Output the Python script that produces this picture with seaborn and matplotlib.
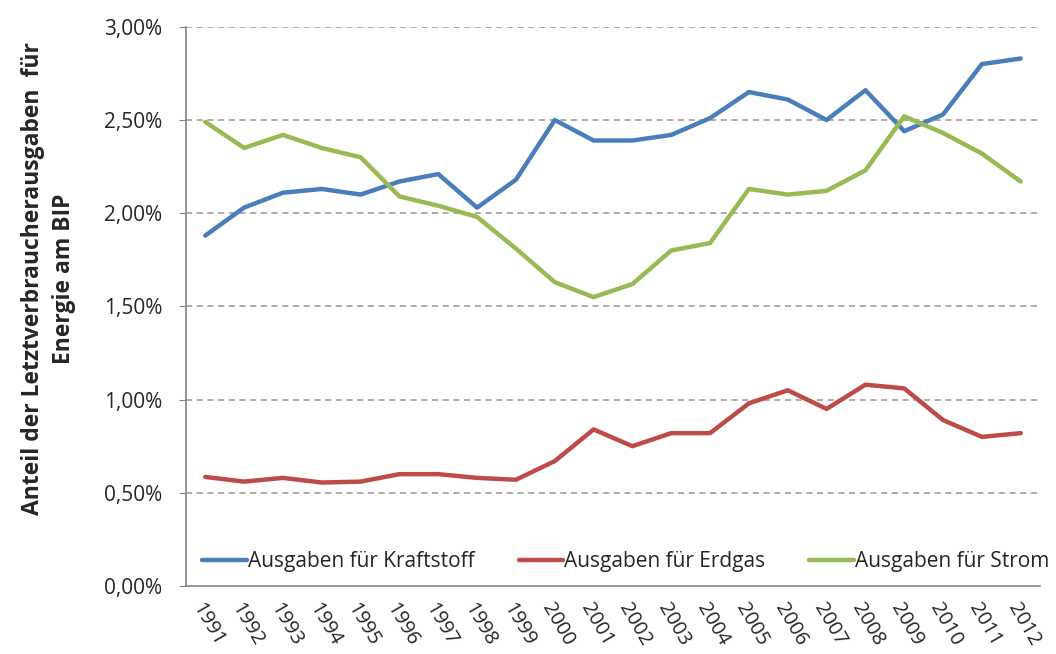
import numpy as np
import pandas as pd
import seaborn as sns
import matplotlib.pyplot as plt
from matplotlib.ticker import FuncFormatter

years = list(range(1991, 2013))
kraftstoff = [1.88, 2.03, 2.11, 2.13, 2.10, 2.17, 2.21, 2.03, 2.18, 2.50, 2.39,
              2.39, 2.42, 2.51, 2.65, 2.61, 2.50, 2.66, 2.44, 2.53, 2.80, 2.83]
erdgas = [0.585, 0.56, 0.58, 0.555, 0.56, 0.60, 0.60, 0.58, 0.57, 0.67, 0.84,
          0.75, 0.82, 0.82, 0.98, 1.05, 0.95, 1.08, 1.06, 0.89, 0.80, 0.82]
strom = [2.49, 2.35, 2.42, 2.35, 2.30, 2.09, 2.04, 1.98, 1.81, 1.63, 1.55,
         1.62, 1.80, 1.84, 2.13, 2.10, 2.12, 2.23, 2.52, 2.43, 2.32, 2.17]
series_names = ["Ausgaben für Kraftstoff", "Ausgaben für Erdgas", "Ausgaben für Strom"]
colors = ["#4a7ebb", "#be4b48", "#98b954"]

df = pd.DataFrame({
    "Jahr": years * 3,
    "Anteil": kraftstoff + erdgas + strom,
    "Reihe": [series_names[0]] * 22 + [series_names[1]] * 22 + [series_names[2]] * 22,
})

sns.set_style("white")
plt.rcParams["font.family"] = ["Open Sans", "DejaVu Sans"]

fig = plt.figure(figsize=(10.56, 6.54), dpi=100)
ax = fig.add_axes([0.176, 0.104, 0.809, 0.855])

sns.lineplot(data=df, x="Jahr", y="Anteil", hue="Reihe", palette=colors,
             linewidth=3.2, ax=ax, legend=True)

ax.set_xlim(1990.5, 2012.5)
ax.set_ylim(0, 3.0)
ax.set_yticks(np.arange(0, 3.01, 0.5))
ax.yaxis.set_major_formatter(FuncFormatter(lambda v, p: f"{v:.2f}%".replace(".", ",")))
ax.set_xticks(years)
ax.set_xticklabels([str(y) for y in years], rotation=-60, ha="left",
                   rotation_mode="anchor", fontsize=14.5)
ax.tick_params(axis="y", labelsize=15, length=5, color="#8c8080", left=True, pad=12)
ax.tick_params(axis="x", length=0, pad=10)

for v in np.arange(0.5, 3.01, 0.5):
    ax.axhline(v, color="#a09292", linestyle=(0, (4, 3)), linewidth=1.1, zorder=0)

for s in ["top", "right"]:
    ax.spines[s].set_visible(False)
for s in ["left", "bottom"]:
    ax.spines[s].set_color("#8c8080")
    ax.spines[s].set_linewidth(1.2)

ax.set_xlabel("")
ax.set_ylabel("Anteil der Letztverbraucherausgaben  für\nEnergie am BIP",
              fontsize=16.5, fontweight="bold", labelpad=20, linespacing=1.4, y=0.55)

ax.legend(loc="center", bbox_to_anchor=(0.515, 0.043), ncol=3, frameon=False,
          fontsize=15, handlelength=2.15, columnspacing=2.1, handletextpad=0.05)

fig.savefig("out.png", dpi=100)
